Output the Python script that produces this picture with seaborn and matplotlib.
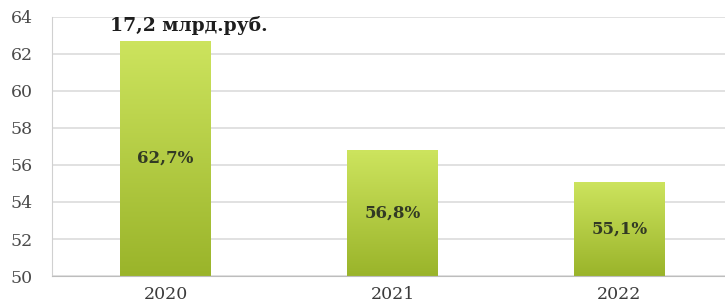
import seaborn as sns
import matplotlib.pyplot as plt
import numpy as np
import pandas as pd
from matplotlib.colors import LinearSegmentedColormap

years = ['2020', '2021', '2022']
shares = [62.7, 56.8, 55.1]
bar_labels = ['62,7%', '56,8%', '55,1%']
top_note = '17,2 млрд.руб.'

df = pd.DataFrame({'year': years, 'share': shares})

sns.set_style('white')
plt.rcParams['font.family'] = ['DejaVu Serif']

fig = plt.figure(figsize=(7.25, 3.02), dpi=100)
ax = fig.add_axes([0.072, 0.086, 0.928, 0.858])

ax = sns.barplot(x='year', y='share', data=df, color='#b5cf3c', width=0.4, ax=ax, zorder=2)
ax.set_ylim(50, 64)
ax.set_yticks(range(50, 65, 2))
ax.set_xlim(-0.5, 2.465)
ax.set(xlabel='', ylabel='')

# gradient fill for bars
cmap = LinearSegmentedColormap.from_list('g', ['#9ab42a', '#cde45e'])
grad = np.linspace(0, 1, 256).reshape(-1, 1)
for patch in ax.patches:
    x0, y0 = patch.get_x(), patch.get_y()
    w, h = patch.get_width(), patch.get_height()
    im = ax.imshow(grad, cmap=cmap, aspect='auto', origin='lower',
                   extent=[x0, x0 + w, 50, y0 + h], zorder=2)
    im.set_clip_path(patch)
    patch.set_facecolor('none')
    patch.set_edgecolor('none')

ax.yaxis.grid(True, color='#dcdcdc', linewidth=1.2, zorder=0)
for s in ['top', 'right']:
    ax.spines[s].set_visible(False)
ax.spines['left'].set_color('#d0d0d0')
ax.spines['bottom'].set_color('#bdbdbd')

ax.set_xticks([0.5, 1.5], minor=True)
ax.tick_params(axis='x', which='minor', length=4, color='#cccccc', direction='out')
ax.tick_params(axis='y', labelsize=12.5, colors='#4a4a4a', length=6, width=1.2,
               color='#dcdcdc', pad=8)
ax.tick_params(axis='x', which='major', labelsize=12.5, colors='#3a3a3a', length=0, pad=7)

for i, (v, lab) in enumerate(zip(shares, bar_labels)):
    ax.text(i, (50 + v) / 2, lab, ha='center', va='center', fontsize=12,
            fontweight='bold', color='#323a24', zorder=3)

ax.text(0.1, 63.55, top_note, ha='center', va='center', fontsize=13.5,
        fontweight='bold', color='#1e1e1e', zorder=3)

fig.savefig('out.png', dpi=100)
